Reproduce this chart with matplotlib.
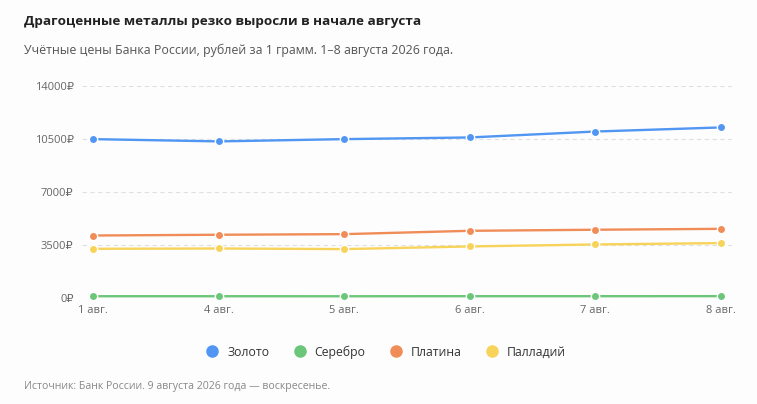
import matplotlib
matplotlib.use("Agg")
import matplotlib.pyplot as plt
from matplotlib.ticker import FuncFormatter

categories = ["1 авг.", "4 авг.", "5 авг.", "6 авг.", "7 авг.", "8 авг."]
gold = [10500, 10350, 10500, 10610, 11000, 11270]
silver = [150, 150, 148, 152, 152, 155]
platinum = [4150, 4200, 4240, 4460, 4530, 4590]
palladium = [3275, 3295, 3255, 3430, 3560, 3650]
series_names = ["Золото", "Серебро", "Платина", "Палладий"]
colors = ["#5096f2", "#6cc679", "#f08c58", "#f8d35a"]
yticks = [0, 3500, 7000, 10500, 14000]

plt.rcParams['font.family'] = ['Open Sans', 'DejaVu Sans']

bg = "#fdfdfd"
fig = plt.figure(figsize=(7.57, 4.04), dpi=100, facecolor=bg)
bottom = 1 - 298.5/404
top = 1 - 86/404
ax = fig.add_axes([0.1083, bottom, 0.8587, top - bottom], facecolor=bg)

x = list(range(len(categories)))
for vals, name, c in zip([gold, silver, platinum, palladium], series_names, colors):
    ax.plot(x, vals, color=c, lw=1.7, marker='o', ms=6, mfc=c, mec='white',
            mew=1.0, label=name, solid_capstyle='round', zorder=3)

ax.set_xlim(-0.09, len(categories) - 1 + 0.09)
ax.set_ylim(0, 14000)
ax.set_yticks(yticks)
ax.yaxis.set_major_formatter(FuncFormatter(lambda v, p: f"{int(v)}₽"))
ax.set_xticks(x)
ax.set_xticklabels(categories)
ax.grid(axis='y', color='#e0e0e0', ls=(0, (4, 3)), lw=0.8)
ax.set_axisbelow(True)
for s in ax.spines.values():
    s.set_visible(False)
ax.tick_params(axis='both', length=0, labelsize=8, colors='#666666')
ax.tick_params(axis='y', pad=6)
ax.tick_params(axis='x', pad=5)

fig.text(24/757, 1 - 22/404, "Драгоценные металлы резко выросли в начале августа",
         fontsize=9.7, fontweight='bold', color='#222222', va='center', ha='left')
fig.text(24/757, 1 - 50/404, "Учётные цены Банка России, рублей за 1 грамм. 1–8 августа 2026 года.",
         fontsize=8.9, color='#555555', va='center', ha='left')
fig.text(24/757, 1 - 386/404, "Источник: Банк России. 9 августа 2026 года — воскресенье.",
         fontsize=7.6, color='#888888', va='center', ha='left')

handles = [plt.Line2D([], [], ls='none', marker='o', ms=8, mfc=c, mec=c) for c in colors]
fig.legend(handles, series_names, loc='center', bbox_to_anchor=(383/757, 1 - 352/404),
           ncol=4, frameon=False, fontsize=8.8, handletextpad=0.2, columnspacing=1.5,
           labelcolor='#333333')

fig.savefig("out.png", dpi=100, facecolor=bg)
